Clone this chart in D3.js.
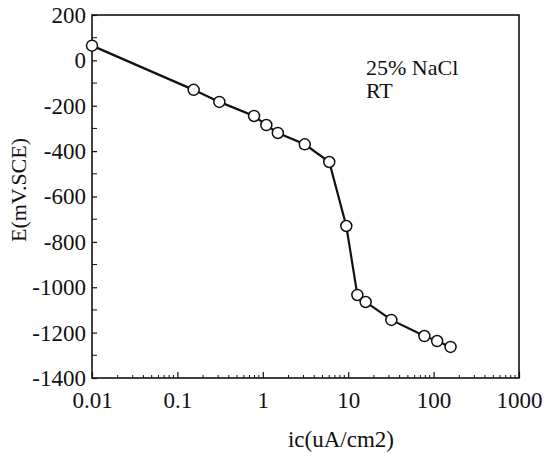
<!DOCTYPE html>
<html>
<head>
<meta charset="utf-8">
<script src="https://cdn.jsdelivr.net/npm/d3@7"></script>
<style>
  body { margin: 0; background: #fff; }
  svg { display: block; }
  svg text { font-family: "Liberation Serif", "Times New Roman", Tinos, "DejaVu Serif", "Noto Serif", serif !important; fill: #111; }
</style>
</head>
<body>
<svg id="chart" width="544" height="462"></svg>
<script>
// Data
const currentDensity = [0.01, 0.155, 0.31, 0.79, 1.1, 1.5, 3.1, 6.0, 9.5, 12.8, 16, 32, 78, 110, 158];
const potential = [65, -130, -183, -245, -285, -320, -370, -448, -730, -1034, -1065, -1144, -1215, -1237, -1263];
const xTickValues = [0.01, 0.1, 1, 10, 100, 1000];
const xTickLabels = ["0.01", "0.1", "1", "10", "100", "1000"];
const yTickValues = [200, 0, -200, -400, -600, -800, -1000, -1200, -1400];
const yTickLabels = ["200", "0", "-200", "-400", "-600", "-800", "-1000", "-1200", "-1400"];
const annotation = ["25% NaCl", "RT"];
const xLabel = "ic(uA/cm2)";
const yLabel = "E(mV.SCE)";

const FONT = '"Liberation Serif", "Times New Roman", Tinos, "DejaVu Serif", "Noto Serif", serif';
const W = 544, H = 462;
const m = { left: 92, top: 15, right: 25, bottom: 84 };
const iw = W - m.left - m.right, ih = H - m.top - m.bottom;

const svg = d3.select("#chart");
const g = svg.append("g").attr("transform", `translate(${m.left},${m.top})`);

const x = d3.scaleLog().domain([0.01, 1000]).range([0, iw]);
const y = d3.scaleLinear().domain([-1400, 200]).range([ih, 0]);

// frame
g.append("rect").attr("x", 0).attr("y", 0).attr("width", iw).attr("height", ih)
  .attr("fill", "none").attr("stroke", "#111").attr("stroke-width", 1.6);

// x minor ticks (inward)
const xMinor = [];
for (let e = -2; e < 3; e++) for (let k = 2; k <= 9; k++) xMinor.push(k * Math.pow(10, e));
g.append("g").selectAll("line").data(xMinor).join("line")
  .attr("x1", d => x(d)).attr("x2", d => x(d))
  .attr("y1", ih).attr("y2", ih - 3).attr("stroke", "#111").attr("stroke-width", 1);

// x axis
const xAxis = d3.axisBottom(x).tickValues(xTickValues)
  .tickFormat((d, i) => xTickLabels[i]).tickSizeInner(-6).tickSizeOuter(0).tickPadding(14);
const gx = g.append("g").attr("transform", `translate(0,${ih})`).call(xAxis).attr("font-family", FONT);
gx.select(".domain").remove();
gx.selectAll("line").attr("stroke", "#111").attr("stroke-width", 1.2);
gx.selectAll("text").attr("font-size", 23).attr("fill", "#111");

// y axis
const yMinor = d3.range(-1300, 200, 200);
g.append("g").selectAll("line").data(yMinor).join("line")
  .attr("x1", 0).attr("x2", 5).attr("y1", d => y(d)).attr("y2", d => y(d))
  .attr("stroke", "#111").attr("stroke-width", 1);
const yAxis = d3.axisLeft(y).tickValues(yTickValues)
  .tickFormat((d, i) => yTickLabels[i]).tickSizeInner(-5).tickSizeOuter(0).tickPadding(6);
const gy = g.append("g").call(yAxis).attr("font-family", FONT);
gy.select(".domain").remove();
gy.selectAll("line").attr("stroke", "#111").attr("stroke-width", 1.2);
gy.selectAll("text").attr("font-size", 23).attr("fill", "#111");

// line
const pts = currentDensity.map((c, i) => [c, potential[i]]);
g.append("path").datum(pts)
  .attr("d", d3.line().x(d => x(d[0])).y(d => y(d[1])))
  .attr("fill", "none").attr("stroke", "#111").attr("stroke-width", 2.2);

g.append("g").selectAll("circle").data(pts).join("circle")
  .attr("cx", d => x(d[0])).attr("cy", d => y(d[1])).attr("r", 5.5)
  .attr("fill", "#fff").attr("stroke", "#111").attr("stroke-width", 1.5);

// annotation
svg.append("text").attr("x", 366).attr("y", 75).attr("font-size", 22).attr("font-family", FONT).text(annotation[0]);
svg.append("text").attr("x", 366).attr("y", 98).attr("font-size", 22).attr("font-family", FONT).text(annotation[1]);

// axis labels
svg.append("text").attr("x", 341).attr("y", 447).attr("text-anchor", "middle")
  .attr("font-size", 23).attr("font-family", FONT).text(xLabel);
svg.append("text").attr("transform", "translate(26,190) rotate(-90)")
  .attr("text-anchor", "middle").attr("font-size", 22).attr("font-family", FONT).text(yLabel);
</script>
</body>
</html>
